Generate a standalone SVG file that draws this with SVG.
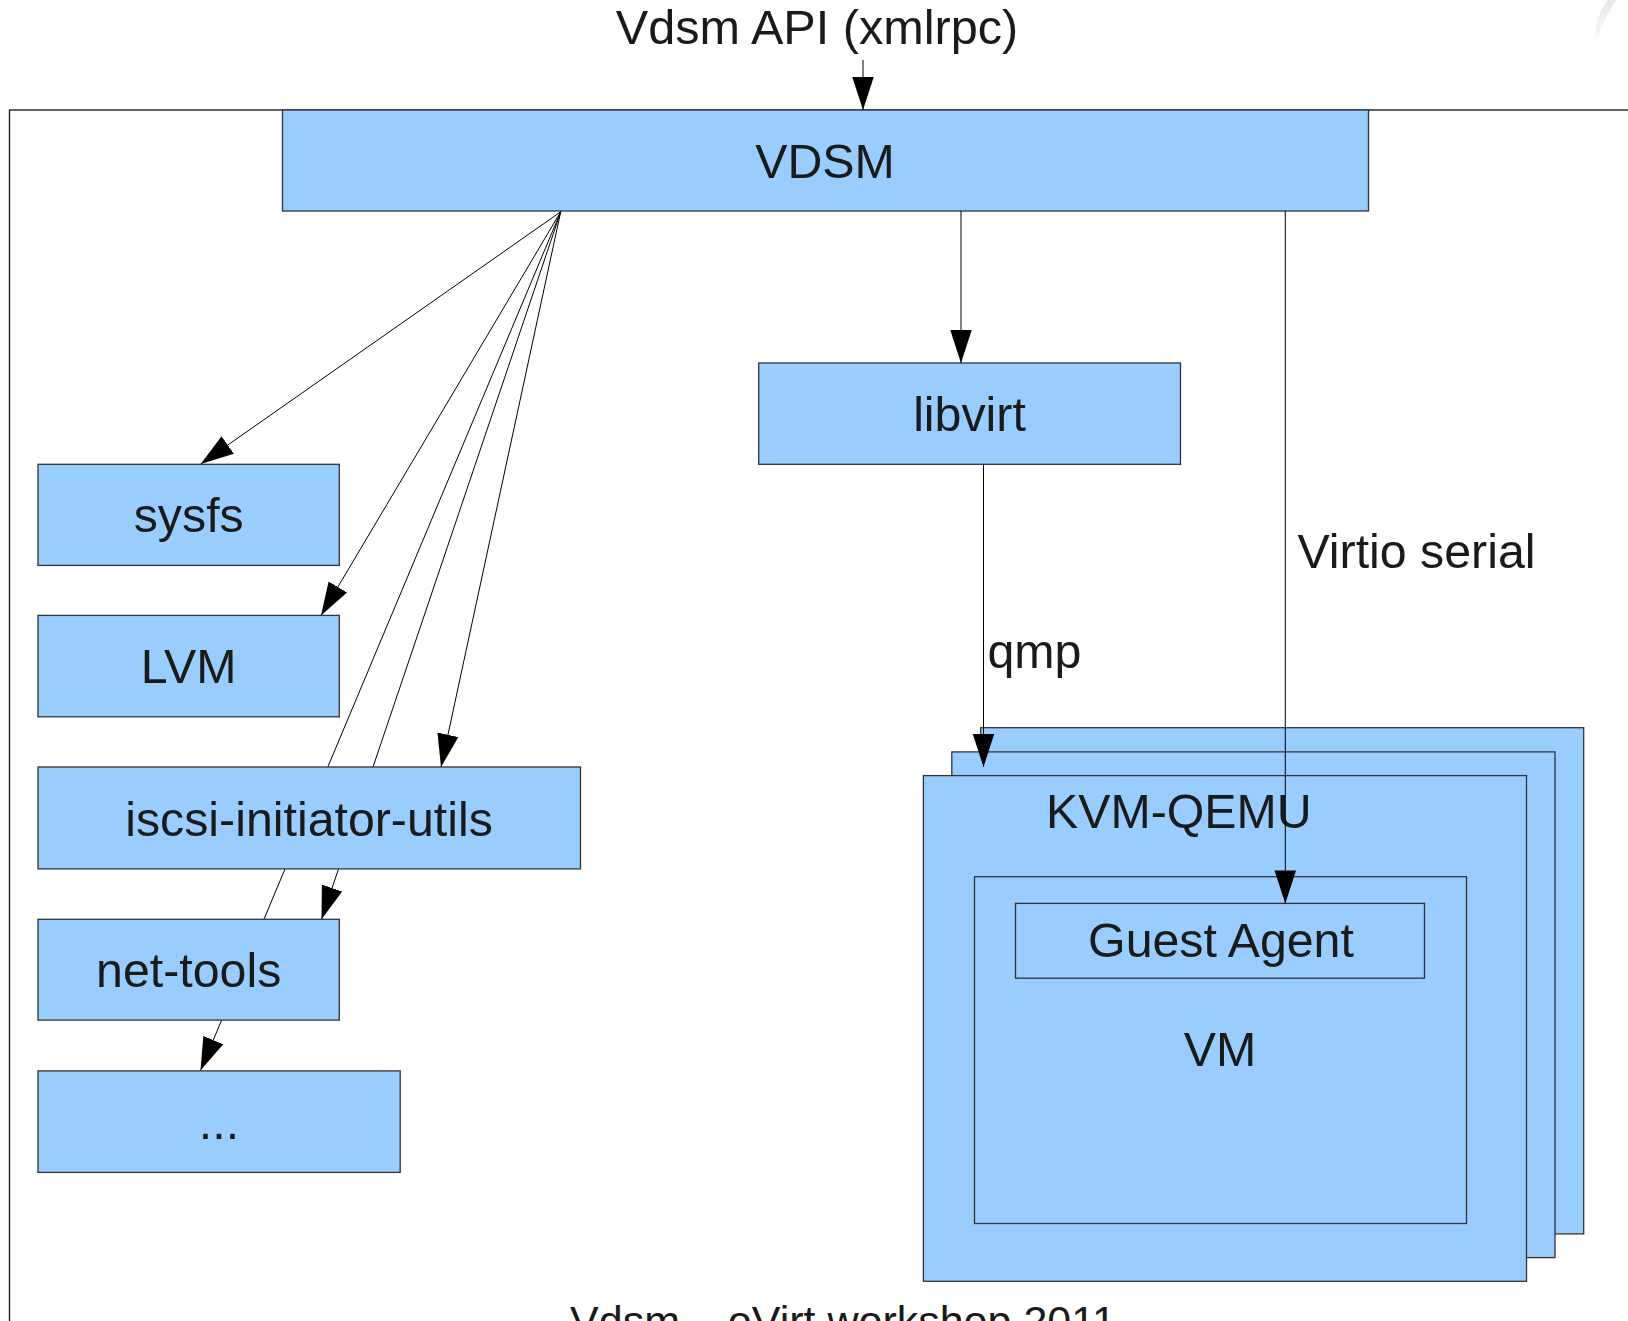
<svg xmlns="http://www.w3.org/2000/svg" width="1628" height="1321" viewBox="0 0 1628 1321">
<style>
.box{fill:#99ccff;stroke:#333333;stroke-width:1.3}
.lbl{font-family:"Liberation Sans",Arial,sans-serif;font-size:48.3px;fill:#1a1a1a}
.mid{text-anchor:middle}
.conn{stroke:#000000;stroke-width:1;fill:none}
.frame{fill:none;stroke:#222222;stroke-width:1.4}
</style>
<defs>
<marker id="arr" markerUnits="userSpaceOnUse" markerWidth="34" markerHeight="22" refX="33" refY="10.75" orient="auto">
<path d="M0,0 L33,10.75 L0,21.5 Z" fill="#000000"/>
</marker>
<linearGradient id="fade" x1="0" y1="0" x2="0" y2="1">
<stop offset="0" stop-color="#e6e6e6"/>
<stop offset="1" stop-color="#ffffff"/>
</linearGradient>
</defs>
<rect width="1628" height="1321" fill="#ffffff"/>
<path d="M1608,0 C1598,12 1594,28 1595,46 C1600,30 1606,14 1617,0 Z" fill="url(#fade)"/>
<rect class="frame" x="9.5" y="110" width="1700" height="1300"/>
<text class="lbl mid" x="817" y="44" style="font-size:48.6px">Vdsm API (xmlrpc)</text>
<text class="lbl mid" x="843" y="1336" style="font-size:43px">Vdsm – oVirt workshop 2011</text>

<g id="kvm-back"><rect class="box" x="980.7" y="727.7" width="603" height="506.2"/></g>
<g id="kvm-middle"><rect class="box" x="951.8" y="751.9" width="603.2" height="505.7"/></g>
<g id="kvm-qemu">
<rect class="box" x="923.4" y="775.6" width="603.1" height="505.7"/>
<text class="lbl" x="1046" y="828">KVM-QEMU</text>
</g>
<g id="vm">
<rect class="box" x="974.5" y="876.7" width="492" height="346.8"/>
<text class="lbl mid" x="1220" y="1066">VM</text>
</g>
<g id="guest-agent">
<rect class="box" x="1015.5" y="903.4" width="409" height="74.8"/>
<text class="lbl mid" x="1221" y="957">Guest Agent</text>
</g>
<g id="vdsm">
<rect class="box" x="282.5" y="110" width="1086" height="101"/>
<text class="lbl mid" x="825" y="178">VDSM</text>
</g>
<g id="libvirt">
<rect class="box" x="758.7" y="363" width="421.8" height="101.3"/>
<text class="lbl mid" x="969.5" y="431">libvirt</text>
</g>

<g id="connectors">
<line class="conn" x1="863" y1="60" x2="863" y2="110" marker-end="url(#arr)"/>
<line class="conn" x1="560.7" y1="211.8" x2="200.7" y2="464" marker-end="url(#arr)"/>
<line class="conn" x1="560.7" y1="211.8" x2="321" y2="615.4" marker-end="url(#arr)"/>
<line class="conn" x1="560.7" y1="211.8" x2="441" y2="767" marker-end="url(#arr)"/>
<line class="conn" x1="560.7" y1="211.8" x2="321.5" y2="919.3" marker-end="url(#arr)"/>
<line class="conn" x1="560.7" y1="211.8" x2="200.5" y2="1070.5" marker-end="url(#arr)"/>
<line class="conn" x1="961" y1="211" x2="961" y2="363" marker-end="url(#arr)"/>
<line class="conn" x1="983.5" y1="464.3" x2="983.5" y2="767" marker-end="url(#arr)"/>
<line class="conn" x1="1285.3" y1="211" x2="1285.3" y2="903.4" marker-end="url(#arr)"/>
<text class="lbl" x="987.5" y="668">qmp</text>
<text class="lbl" x="1297.5" y="568">Virtio serial</text>
</g>

<g id="sysfs">
<rect class="box" x="38" y="464.3" width="301.3" height="101.1"/>
<text class="lbl mid" x="188.7" y="532">sysfs</text>
</g>
<g id="lvm">
<rect class="box" x="38" y="615.4" width="301.3" height="101.4"/>
<text class="lbl mid" x="188.7" y="683">LVM</text>
</g>
<g id="iscsi-initiator-utils">
<rect class="box" x="38" y="767" width="542.5" height="101.9"/>
<text class="lbl mid" x="309" y="835.5">iscsi-initiator-utils</text>
</g>
<g id="net-tools">
<rect class="box" x="38" y="919.3" width="301.3" height="100.8"/>
<text class="lbl mid" x="188.7" y="987">net-tools</text>
</g>
<g id="etc">
<rect class="box" x="38" y="1070.9" width="362.2" height="101.5"/>
<text class="lbl mid" x="219" y="1139">...</text>
</g>
</svg>
